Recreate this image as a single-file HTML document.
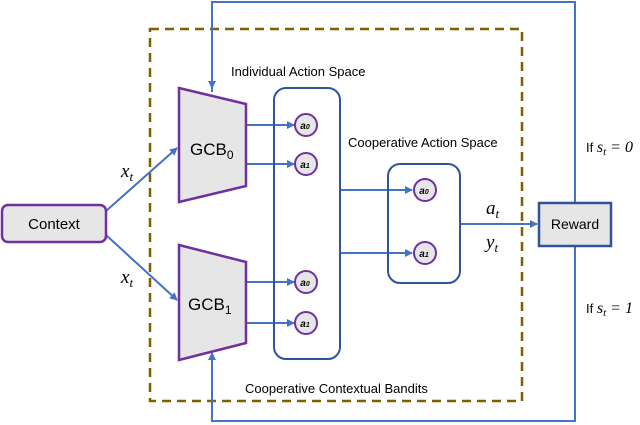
<!DOCTYPE html>
<html><head><style>
body{margin:0;background:#fff;}
svg{display:block;font-family:"Liberation Sans","DejaVu Sans",sans-serif;}
.m{font-family:"Liberation Serif",serif;font-style:italic;}
</style></head><body>
<svg width="640" height="425" viewBox="0 0 640 425" xmlns="http://www.w3.org/2000/svg">
<defs>
<marker id="ah" markerWidth="8" markerHeight="8" refX="7" refY="4" orient="auto" markerUnits="userSpaceOnUse">
<path d="M0,0 L8,4 L0,8 z" fill="#4472c4"/></marker>
</defs>
<rect x="150" y="29" width="372" height="372" fill="none" stroke="#7f6000" stroke-width="2.5" stroke-dasharray="9,6"/>
<g stroke="#4472c4" stroke-width="2" fill="none">
<polyline points="212,92 212,2 575,2 575,202"/>
<polyline points="575,246 575,421 212,421 212,353" marker-end="url(#ah)"/>
<line x1="212" y1="80" x2="212" y2="88" marker-end="url(#ah)"/>
<line x1="106" y1="211" x2="177" y2="148" marker-end="url(#ah)"/>
<line x1="106" y1="235" x2="177" y2="300" marker-end="url(#ah)"/>
<line x1="246" y1="125" x2="294" y2="125" marker-end="url(#ah)"/>
<line x1="246" y1="164" x2="294" y2="164" marker-end="url(#ah)"/>
<line x1="246" y1="282" x2="294" y2="282" marker-end="url(#ah)"/>
<line x1="246" y1="323" x2="294" y2="323" marker-end="url(#ah)"/>
<line x1="340" y1="190" x2="412" y2="190" marker-end="url(#ah)"/>
<line x1="340" y1="253" x2="412" y2="253" marker-end="url(#ah)"/>
<line x1="460" y1="224" x2="537" y2="224" marker-end="url(#ah)"/>
</g>
<rect x="2" y="205" width="104" height="37" rx="6" fill="#e6e6e6" stroke="#7030a0" stroke-width="2.5"/>
<text x="54" y="229" font-size="15" text-anchor="middle">Context</text>
<polygon points="179,88 246,104 246,186 179,202" fill="#e6e6e6" stroke="#7030a0" stroke-width="2.5"/>
<polygon points="179,245 246,262 246,343 179,360" fill="#e6e6e6" stroke="#7030a0" stroke-width="2.5"/>
<text x="190" y="155" font-size="17">GCB<tspan font-size="12" dy="4">0</tspan></text>
<text x="188" y="310" font-size="17">GCB<tspan font-size="12" dy="4">1</tspan></text>
<rect x="274" y="88" width="66" height="271" rx="12" fill="none" stroke="#2f5597" stroke-width="2"/>
<rect x="388" y="164" width="72" height="119" rx="12" fill="none" stroke="#2f5597" stroke-width="2"/>
<g fill="#e6e6e6" stroke="#7030a0" stroke-width="2">
<circle cx="306" cy="125" r="11"/><circle cx="306" cy="164" r="11"/>
<circle cx="306" cy="282" r="11"/><circle cx="306" cy="323" r="11"/>
<circle cx="425" cy="190" r="11"/><circle cx="425" cy="253" r="11"/>
</g>
<g font-size="10" font-weight="bold" font-style="italic" text-anchor="middle">
<text x="305" y="129">a<tspan font-size="7">0</tspan></text>
<text x="305" y="168">a<tspan font-size="7">1</tspan></text>
<text x="305" y="286">a<tspan font-size="7">0</tspan></text>
<text x="305" y="327">a<tspan font-size="7">1</tspan></text>
<text x="424" y="194">a<tspan font-size="7">0</tspan></text>
<text x="424" y="257">a<tspan font-size="7">1</tspan></text>
</g>
<rect x="539" y="203" width="72" height="43" fill="#e6e6e6" stroke="#2f5597" stroke-width="2.5"/>
<text x="575" y="229" font-size="14" text-anchor="middle">Reward</text>
<g font-size="13">
<text x="231" y="76">Individual Action Space</text>
<text x="348" y="147">Cooperative Action Space</text>
<text x="245" y="393">Cooperative Contextual Bandits</text>
<text x="586" y="152">If <tspan class="m" font-size="16">s<tspan font-size="11" dy="3">t</tspan><tspan dy="-3"> = 0</tspan></tspan></text>
<text x="586" y="313">If <tspan class="m" font-size="16">s<tspan font-size="11" dy="3">t</tspan><tspan dy="-3"> = 1</tspan></tspan></text>
</g>
<g class="m" font-size="19">
<text x="121" y="177">x<tspan font-size="13" dy="4">t</tspan></text>
<text x="121" y="283">x<tspan font-size="13" dy="4">t</tspan></text>
<text x="486" y="214">a<tspan font-size="13" dy="4">t</tspan></text>
<text x="486" y="248">y<tspan font-size="13" dy="4">t</tspan></text>
</g>
</svg>
</body></html>
